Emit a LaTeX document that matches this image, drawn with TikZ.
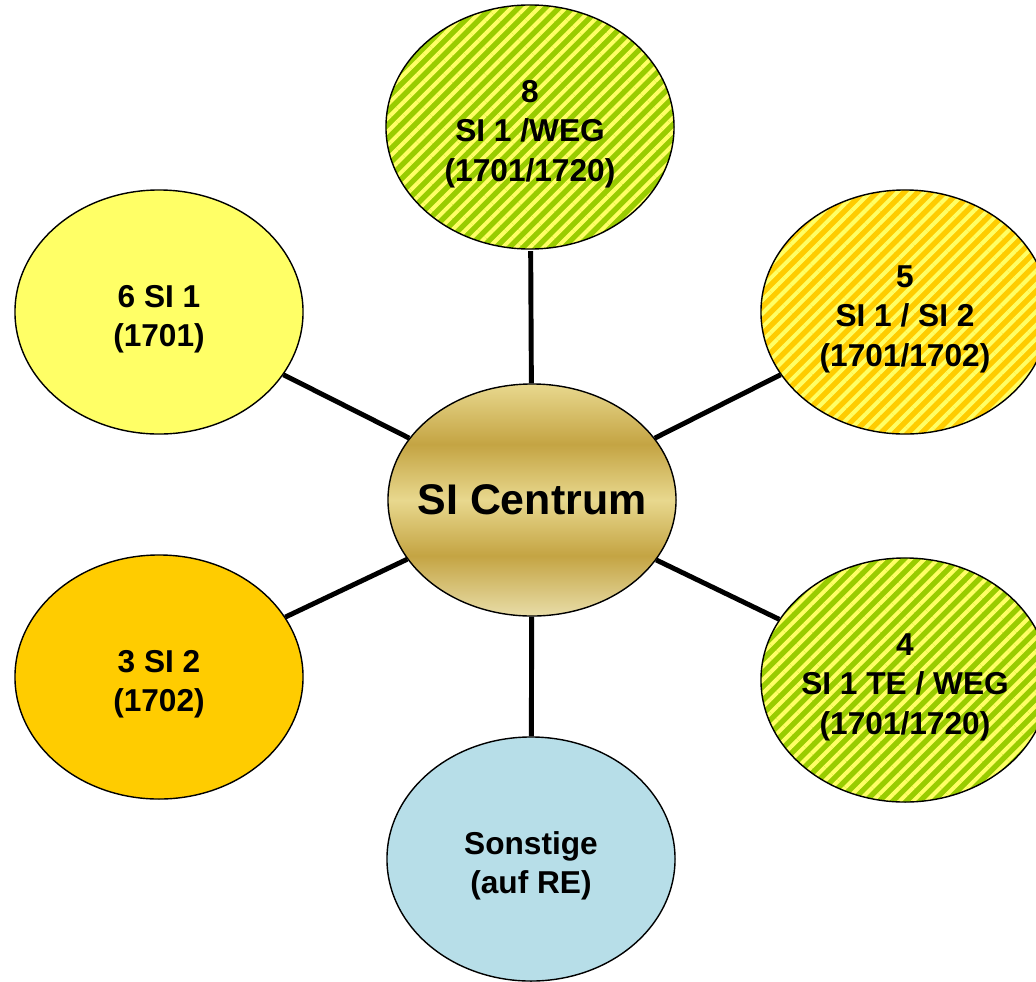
\documentclass[tikz,border=0pt]{standalone}
\usepackage{fontspec}
\setmainfont{Liberation Sans}
\usetikzlibrary{shapes.geometric,patterns.meta,backgrounds}
\definecolor{lyellow}{HTML}{FFFF66}
\definecolor{gold}{HTML}{FFCC00}
\definecolor{lgreen}{HTML}{99CC00}
\definecolor{lblue}{HTML}{B7DEE8}
\definecolor{glight}{HTML}{E8D88E}
\definecolor{gdark}{HTML}{C4A443}
\definecolor{gbottom}{HTML}{E8DDA8}
\pgfdeclareverticalshading{goldband}{100bp}{color(0bp)=(gbottom); color(25bp)=(gbottom); color(38bp)=(gdark); color(50bp)=(glight); color(62bp)=(gdark); color(75bp)=(glight); color(100bp)=(glight)}
\newcommand\lowr{\rule{0pt}{0.9cm}}
\tikzset{
  bubble/.style={ellipse, draw=black, line width=1pt, inner sep=-2cm,
    minimum width=7.2cm, minimum height=6.1cm, align=center,
    font=\fontsize{22.5}{28}\selectfont\bfseries},
  stripes/.style={pattern={Lines[angle=45,distance=0.24cm,line width=0.1cm]}, pattern color=#1},
  spoke/.style={line width=3.5pt, black},
}
\begin{document}
\begin{tikzpicture}[x=0.025cm,y=-0.025cm]
\useasboundingbox (0,0) rectangle (1036,981);
\clip (0,0) rectangle (1036,981);
\node[bubble, minimum height=5.8cm, shading=goldband, font=\fontsize{30.5}{34}\selectfont\bfseries] (c) at (532,500) {SI Centrum};
\node[bubble, preaction={fill=lgreen}, stripes=lyellow] (n8) at (530,127) {\lowr 8\\SI 1 /WEG\\(1701/1720)};
\node[bubble, fill=lyellow] (n6) at (159,312) {\lowr 6 SI 1\\(1701)};
\node[bubble, preaction={fill=gold}, stripes=lyellow] (n5) at (905,312) {\lowr 5\\SI 1 / SI 2\\(1701/1702)};
\node[bubble, fill=gold] (n3) at (159,677) {\lowr 3 SI 2\\(1702)};
\node[bubble, preaction={fill=lgreen}, stripes=lyellow] (n4) at (905,680) {\lowr 4\\SI 1 TE / WEG\\(1701/1720)};
\node[bubble, fill=lblue] (ns) at (531,859) {\lowr Sonstige\\(auf RE)};
\begin{scope}[on background layer]
\draw[spoke] (c) -- (n8);
\draw[spoke] (c) -- (n6);
\draw[spoke] (c) -- (n5);
\draw[spoke] (c) -- (n3);
\draw[spoke] (c) -- (n4);
\draw[spoke] (c) -- (ns);
\end{scope}
\end{tikzpicture}
\end{document}
